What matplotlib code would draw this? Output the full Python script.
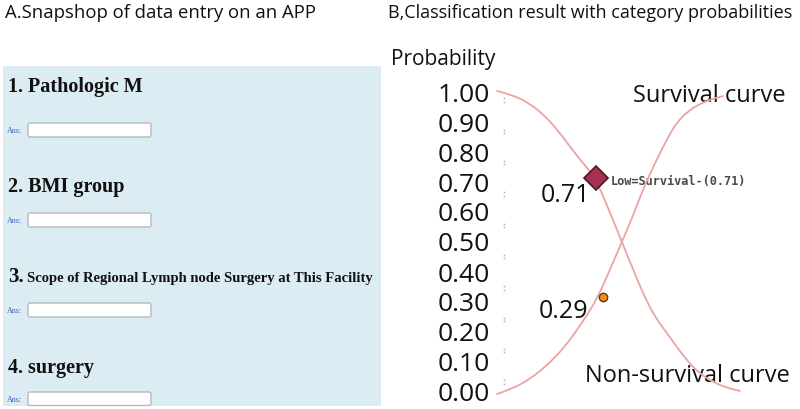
import matplotlib
matplotlib.use("Agg")
import matplotlib.pyplot as plt
from matplotlib.patches import Rectangle, FancyBboxPatch, PathPatch
from matplotlib.path import Path
import numpy as np

# ---------------- data ----------------
tick_values = [0.0, 0.1, 0.2, 0.3, 0.4, 0.5, 0.6, 0.7, 0.8, 0.9, 1.0]
tick_labels = ["0.00", "0.10", "0.20", "0.30", "0.40", "0.50",
               "0.60", "0.70", "0.80", "0.90", "1.00"]

# descending curve (ends at bottom right: "Non-survival curve")
desc_x = [0.000, 0.066, 0.136, 0.189, 0.247, 0.329, 0.403, 0.460, 0.514, 0.575,
          0.621, 0.660, 0.700, 0.782, 0.835, 0.889, 0.945, 1.000]
desc_y = [1.000, 0.987, 0.957, 0.923, 0.873, 0.783, 0.713, 0.605, 0.497, 0.375,
          0.290, 0.236, 0.192, 0.100, 0.058, 0.030, 0.011, 0.000]

# ascending curve (ends at top right: "Survival curve")
asc_x = [0.000, 0.062, 0.136, 0.205, 0.272, 0.342, 0.412, 0.465, 0.514, 0.560,
         0.601, 0.658, 0.700, 0.741, 0.790, 0.835, 0.880, 0.930]
asc_y = [-0.010, 0.007, 0.040, 0.085, 0.140, 0.217, 0.307, 0.405, 0.497, 0.585,
         0.673, 0.773, 0.840, 0.897, 0.935, 0.957, 0.972, 0.983]

survival_point = (0.407, 0.71)
nonsurvival_point = (0.436, 0.315)
survival_label = "0.71"
nonsurvival_label = "0.29"
point_note = "Low=Survival-(0.71)"

questions = ["Pathologic M", "BMI group",
             "Scope of Regional Lymph node Surgery at This Facility", "surgery"]

title_a = "A.Snapshop of data entry on an APP"
title_b = "B,Classification result with category probabilities"

# ---------------- figure ----------------
W, H = 800, 410
fig = plt.figure(figsize=(W / 100, H / 100), dpi=100)
fig.patch.set_facecolor("white")

SANS = ["Open Sans", "DejaVu Sans"]
SERIF = ["Liberation Serif", "DejaVu Serif"]

# background axes in pixel coordinates
bg = fig.add_axes([0, 0, 1, 1])
bg.set_xlim(0, W)
bg.set_ylim(H, 0)
bg.axis("off")

# titles
bg.text(5, 18, title_a, family=SANS, fontsize=13.3, color="#111111", va="baseline", ha="left")
bg.text(388, 18, title_b, family=SANS, fontsize=12.95, color="#111111", va="baseline", ha="left")

# ---- left panel ----
bg.add_patch(Rectangle((3, 67), 378, 340, facecolor="#dcecf3", edgecolor="none"))

baselines = [92, 192, 282, 373]
box_tops = [124, 214, 304, 393]
for i, (q, b, t) in enumerate(zip(questions, baselines, box_tops)):
    if i == 2:
        bg.text(8, b, f"{i+1}.", family=SERIF, weight="bold", fontsize=15, color="#111111",
                va="baseline", ha="left")
        bg.text(27, b, q, family=SERIF, weight="bold", fontsize=10.5, color="#111111",
                va="baseline", ha="left")
    else:
        bg.text(8, b, f"{i+1}. {q}", family=SERIF, weight="bold", fontsize=14.5,
                color="#111111", va="baseline", ha="left")
    hgt = 14 if i < 3 else 13.5
    bg.add_patch(FancyBboxPatch((28, t), 123, hgt, boxstyle="round,pad=0,rounding_size=2",
                                facecolor="white", edgecolor="#b5b9bd", linewidth=1.0))
    bg.text(7, t + 7.5, "Ans:", family=SERIF, fontsize=5.8, color="#3a5ec0",
            va="center", ha="left")

# ---- right panel labels ----
bg.text(391, 65, "Probability", family=SANS, fontsize=15, color="#111111",
        va="baseline", ha="left")
bg.text(633, 102, "Survival curve", family=SANS, fontsize=17, color="#111111",
        va="baseline", ha="left")
bg.text(585, 382, "Non-survival curve", family=SANS, fontsize=17, color="#111111",
        va="baseline", ha="left")

# chart axes: x 0..1 -> px 497..740 ; y 0..1 -> py 392..92
x0, x1, y0, y1 = 497, 740, 392, 92
ax = fig.add_axes([x0 / W, (H - y0) / H, (x1 - x0) / W, (y0 - y1) / H])
ax.set_xlim(0, 1)
ax.set_ylim(0, 1)
ax.patch.set_alpha(0)
for s in ax.spines.values():
    s.set_visible(False)
ax.set_xticks([])
ax.set_yticks(tick_values)
ax.set_yticklabels(tick_labels, family=SANS, fontsize=19, color="#111111")
ax.tick_params(axis="y", length=0, pad=5)


def smooth_path(xs, ys):
    """Quadratic-Bezier path through the read points (rendered by matplotlib)."""
    pts = list(zip(xs, ys))
    verts = [pts[0]]
    codes = [Path.MOVETO]
    for k in range(1, len(pts) - 1):
        mid = ((pts[k][0] + pts[k + 1][0]) / 2, (pts[k][1] + pts[k + 1][1]) / 2)
        verts += [pts[k], mid]
        codes += [Path.CURVE3, Path.CURVE3]
    verts.append(pts[-1])
    codes.append(Path.LINETO)
    return Path(verts, codes)


curve_color = "#eba3a3"
for xs, ys in ((desc_x, desc_y), (asc_x, asc_y)):
    ax.add_patch(PathPatch(smooth_path(xs, ys), facecolor="none", edgecolor=curve_color,
                           lw=1.3, clip_on=False, capstyle="round"))

# faint dotted guide marks along the axis
guide_y = np.linspace(0.97, 0.03, 10)
for dy in (-0.006, 0.006):
    ax.plot([0.029] * len(guide_y), guide_y + dy, ls="none", marker="s", ms=1.2,
            mew=0, color="#9fc2da", clip_on=False)

ax.plot([survival_point[0]], [survival_point[1]], marker="D", ms=12,
        mfc="#a8304f", mec="#4a1a28", mew=1.2, clip_on=False, zorder=5)
ax.plot([nonsurvival_point[0]], [nonsurvival_point[1]], marker="o", ms=6,
        mfc="#f0901a", mec="#5a3a10", mew=1.0, clip_on=False, zorder=5)

bg.text(611, 182, point_note, family=["DejaVu Sans Mono"], fontsize=8.6,
        weight="bold", color="#4a4a4a", va="center", ha="left")
bg.text(590, 196, survival_label, family=SANS, fontsize=18, color="#111111",
        va="center", ha="right")
bg.text(588, 312, nonsurvival_label, family=SANS, fontsize=18, color="#111111",
        va="center", ha="right")

fig.savefig("out.png", dpi=100)
